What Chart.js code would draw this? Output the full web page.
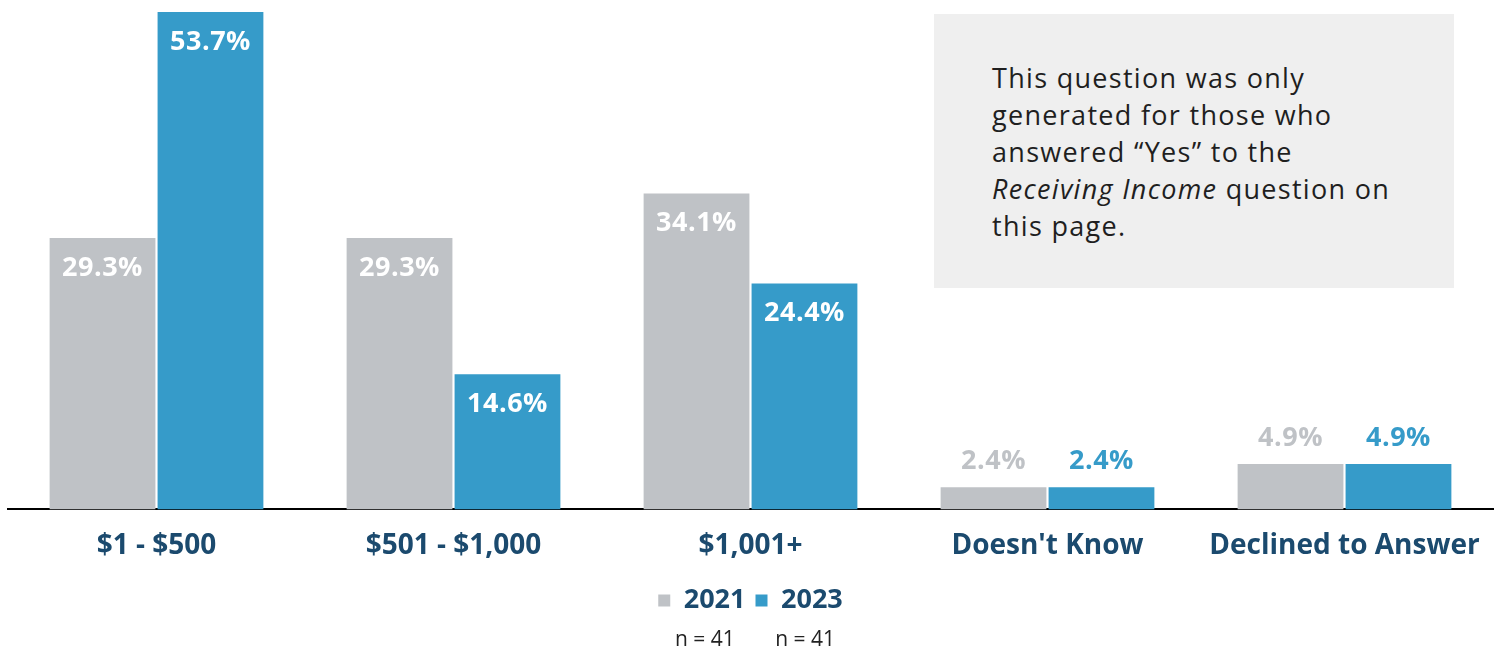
<!DOCTYPE html>
<html>
<head>
<meta charset="utf-8">
<script src="https://cdn.jsdelivr.net/npm/chart.js@4"></script>
<style>
    html, body { margin: 0; padding: 0; background: #fff; }
    #wrap { position: relative; width: 1501px; height: 650px; }
    .note {
        position: absolute; left: 934px; top: 14px; width: 520px; height: 274px;
        background: #efefef; box-sizing: border-box; padding: 45px 0 0 58px;
        font: 27px "Open Sans"; letter-spacing: 1.3px; line-height: 37px; color: #1f1f1f;
    }
</style>
</head>
<body>
<div id="wrap">
    <canvas id="chart" width="1501" height="650"></canvas>
    <div class="note">This question was only<br>generated for those who<br>answered &ldquo;Yes&rdquo; to the<br><i>Receiving Income</i> question on<br>this page.</div>
</div>
<script>
// values
const categories = ["$1 - $500", "$501 - $1,000", "$1,001+", "Doesn't Know", "Declined to Answer"];
const years = ["2021", "2023"];
const values2021 = [29.3, 29.3, 34.1, 2.4, 4.9];
const values2023 = [53.7, 14.6, 24.4, 2.4, 4.9];
const sampleN = [41, 41];

const GRAY = "#bfc2c6";
const BLUE = "#369bc9";
const NAVY = "#1b4a6e";

// percent labels: inside the top of tall bars, above short ones
const valueLabels = {
    id: "valueLabels",
    afterDatasetsDraw(chart) {
        const ctx = chart.ctx;
        chart.data.datasets.forEach((ds, i) => {
            chart.getDatasetMeta(i).data.forEach((bar, j) => {
                const v = ds.data[j];
                const inside = v > 10;
                ctx.save();
                ctx.font = 'bold 27px "Open Sans"';
                ctx.letterSpacing = "0.5px";
                ctx.textAlign = "center";
                ctx.textBaseline = "middle";
                ctx.fillStyle = inside ? "#fff" : ds.backgroundColor;
                ctx.fillText(v.toFixed(1) + "%", bar.x, inside ? bar.y + 30 : bar.y - 26);
                ctx.restore();
            });
        });
    },
};

// "n = 41" under each legend item
const sampleSizes = {
    id: "sampleSizes",
    afterDraw(chart) {
        const ctx = chart.ctx;
        const boxes = chart.legend.legendHitBoxes;
        ctx.save();
        ctx.font = '21px "Open Sans"';
        ctx.textAlign = "center";
        ctx.textBaseline = "middle";
        ctx.fillStyle = "#222";
        boxes.forEach((b, i) => {
            ctx.fillText("n = " + sampleN[i], b.left + b.width / 2 + 3 + i * 3, b.top + b.height / 2 + 40);
        });
        ctx.restore();
    },
};

new Chart(document.getElementById("chart").getContext("2d"), {
    type: "bar",
    data: {
        labels: categories,
        datasets: [
            { label: years[0], data: values2021, backgroundColor: GRAY },
            { label: years[1], data: values2023, backgroundColor: BLUE },
        ],
    },
    options: {
        responsive: false,
        animation: false,
        categoryPercentage: 0.727,
        barPercentage: 0.98,
        layout: { padding: { left: 8, right: 8, top: 0, bottom: 26 } },
        scales: {
            x: {
                grid: { display: false },
                border: { color: "#000", width: 2 },
                ticks: {
                    color: NAVY,
                    padding: 12,
                    font: { family: "Open Sans", size: 28, weight: "bold" },
                },
                afterFit: (s) => { s.height += 2; },
            },
            y: { display: false, min: 0, max: 55 },
        },
        plugins: {
            legend: {
                position: "bottom",
                labels: {
                    color: NAVY,
                    boxWidth: 12,
                    boxHeight: 12,
                    padding: 10,
                    font: { family: "Open Sans", size: 27, weight: "bold" },
                },
            },
            tooltip: { enabled: false },
        },
    },
    plugins: [valueLabels, sampleSizes],
});
</script>
</body>
</html>
